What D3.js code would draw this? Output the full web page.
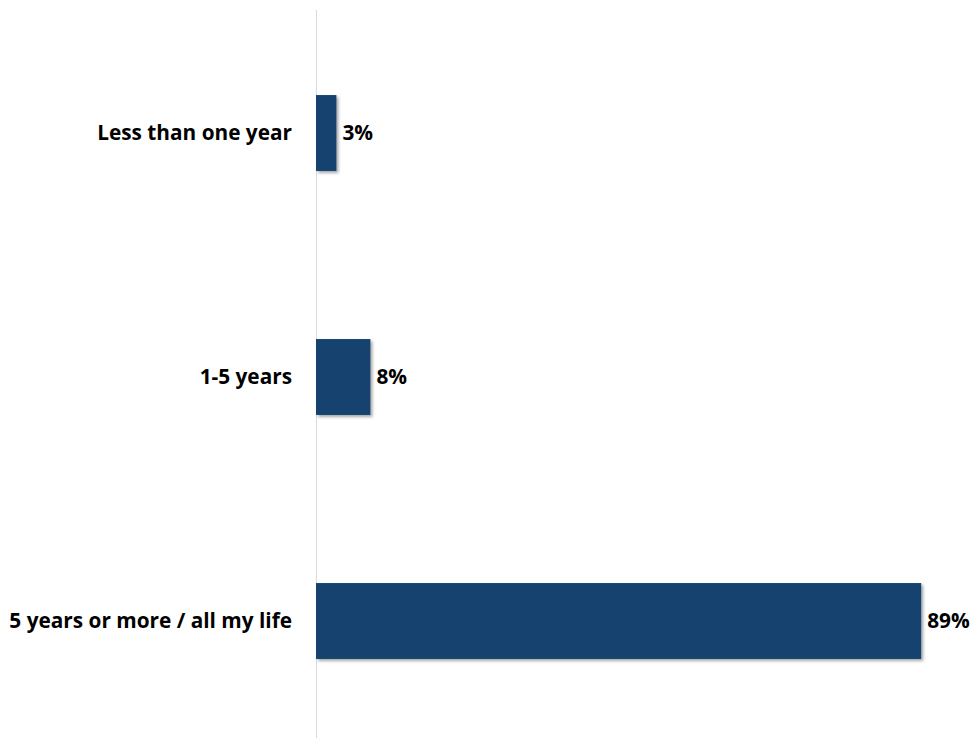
<!DOCTYPE html>
<html>
<head>
<meta charset="utf-8">
<script src="https://cdn.jsdelivr.net/npm/d3@7"></script>
<style>
  html, body { margin: 0; padding: 0; background: #fff; }
  svg text { font-family: "Open Sans", Lato, sans-serif; font-weight: bold; fill: #000; }
</style>
</head>
<body>
<svg id="chart" width="976" height="738"></svg>
<script>
// Length of residence, share of respondents (%)
const categories = ["Less than one year", "1-5 years", "5 years or more / all my life"];
const values = [3, 8, 89];
const valueLabels = ["3%", "8%", "89%"];

const width = 976, height = 738;
const svg = d3.select("#chart");

const x = d3.scaleLinear().domain([0, 100]).range([316, 996]);
const y = d3.scaleBand()
  .domain(categories)
  .range([11, 743])
  .paddingInner(0.689)
  .paddingOuter(0.3445);

// soft drop shadow under the bars
const defs = svg.append("defs");
const f = defs.append("filter").attr("id", "shadow")
  .attr("x", "-10%").attr("y", "-10%").attr("width", "130%").attr("height", "130%");
f.append("feDropShadow").attr("dx", 2).attr("dy", 2).attr("stdDeviation", 1.5)
  .attr("flood-color", "#000").attr("flood-opacity", 0.35);

// category axis line
svg.append("line")
  .attr("x1", x(0) + 0.5).attr("x2", x(0) + 0.5)
  .attr("y1", 10).attr("y2", height)
  .attr("stroke", "#d9d9d9").attr("stroke-width", 1);

svg.selectAll("rect.bar")
  .data(values)
  .join("rect")
  .attr("class", "bar")
  .attr("x", x(0))
  .attr("y", (d, i) => y(categories[i]))
  .attr("width", d => x(d) - x(0))
  .attr("height", y.bandwidth())
  .attr("fill", "#124370")
  .attr("filter", "url(#shadow)");

svg.selectAll("text.cat")
  .data(categories)
  .join("text")
  .attr("class", "cat")
  .attr("x", 292)
  .attr("y", d => y(d) + y.bandwidth() / 2)
  .attr("dy", "0.35em")
  .attr("text-anchor", "end")
  .attr("font-size", 20.8)
  .text(d => d);

svg.selectAll("text.val")
  .data(values)
  .join("text")
  .attr("class", "val")
  .attr("x", d => x(d) + 6)
  .attr("y", (d, i) => y(categories[i]) + y.bandwidth() / 2)
  .attr("dy", "0.35em")
  .attr("font-size", 20.8)
  .text((d, i) => valueLabels[i]);
</script>
</body>
</html>
